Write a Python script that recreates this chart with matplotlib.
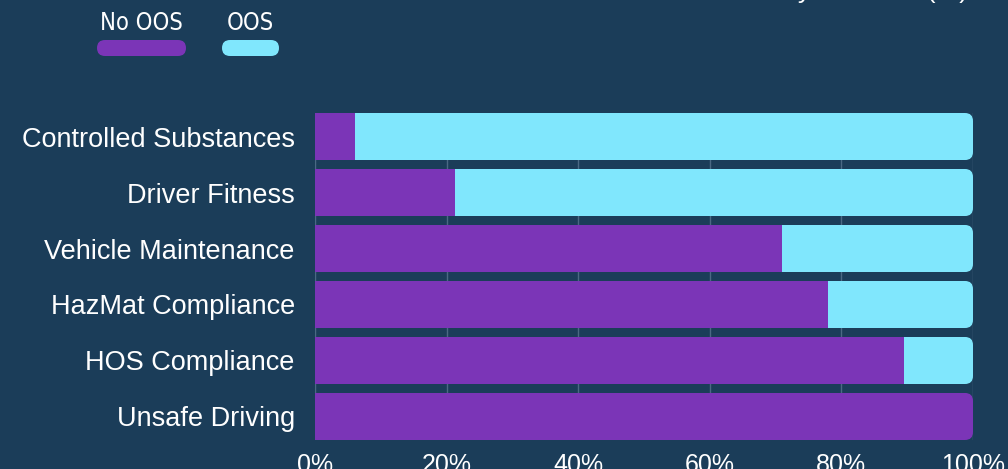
import matplotlib.pyplot as plt
from matplotlib.patches import FancyBboxPatch
from matplotlib.font_manager import FontProperties, fontManager

# share of inspections per BASIC, in percent
categories = ["Controlled Substances", "Driver Fitness", "Vehicle Maintenance",
              "HazMat Compliance", "HOS Compliance", "Unsafe Driving"]
no_oos = [6.1, 21.3, 71.0, 78.0, 89.5, 100.0]
oos = [93.9, 78.7, 29.0, 22.0, 10.5, 0.0]
series_names = ["No OOS", "OOS"]
tick_values = [0, 20, 40, 60, 80, 100]

BG = "#1b3d59"
PURPLE = "#7b35b7"
CYAN = "#80e7fd"
GRID = "#4b6984"
W, H = 1008, 469


def condensed_font(size):
    """Pick a narrow sans face for the legend labels if one is installed."""
    for f in fontManager.ttflist:
        low = f.fname.lower()
        if ("narrow" in low or "condensed" in low) and "bold" not in low \
                and "italic" not in low and "oblique" not in low and "sans" in low:
            return FontProperties(fname=f.fname, size=size)
    return FontProperties(family="Roboto", size=size * 0.9)


fig = plt.figure(figsize=(W / 100, H / 100), dpi=100, facecolor=BG)
ax = fig.add_axes([315 / W, 1 - 440 / H, 658 / W, 327 / H])
ax.set_facecolor(BG)

n = len(categories)
bar_h = 0.84
ax.set_xlim(0, 100)
ax.set_ylim(n - 1 + bar_h / 2, -bar_h / 2)

# rounding radius in pixels, converted into data units for each axis
px_x = 100 / 658
px_y = (n - 1 + bar_h) / 327
radius = 8

for i, cat in enumerate(categories):
    clip = FancyBboxPatch((-10, i - bar_h / 2), 110, bar_h,
                          boxstyle=f"round,pad=0,rounding_size={radius * px_x}",
                          mutation_aspect=px_y / px_x,
                          transform=ax.transData, facecolor="none", edgecolor="none")
    ax.add_patch(clip)
    segs = ax.barh([i, i], [no_oos[i], oos[i]], left=[0, no_oos[i]], height=bar_h,
                   color=[PURPLE, CYAN], zorder=3)
    for s in segs:
        s.set_clip_path(clip)

ax.set_xticks(tick_values)
ax.set_xticklabels([f"{v}%" for v in tick_values])
ax.set_yticks(range(n))
ax.set_yticklabels(categories)
ax.tick_params(axis="both", length=0, colors="white")
ax.tick_params(axis="x", pad=9, labelsize=18)
ax.tick_params(axis="y", pad=14.5, labelsize=19.5)
for lab in ax.get_xticklabels() + ax.get_yticklabels():
    lab.set_fontfamily("Liberation Sans")

ax.grid(axis="x", color=GRID, linewidth=1, zorder=0)
for sp in ax.spines.values():
    sp.set_visible(False)
ax.axvline(0, color="#a3b5c5", linewidth=1.2, zorder=1)

# legend swatches drawn as pills in figure pixels
legend_items = [(series_names[0], PURPLE, 97, 186), (series_names[1], CYAN, 222, 279)]
legend_font = condensed_font(17)
for label, col, x0, x1 in legend_items:
    pill = FancyBboxPatch((x0 / W, 1 - 56 / H), (x1 - x0) / W, 16 / H,
                          boxstyle=f"round,pad=0,rounding_size={8 / W}",
                          mutation_aspect=W / H,
                          transform=fig.transFigure, facecolor=col, edgecolor="none")
    fig.patches.append(pill)
    fig.text((x0 + x1) / 2 / W, 1 - 30 / H, label, color="white",
             fontproperties=legend_font, ha="center", va="baseline")

fig.text(968 / W, 1 + 2 / H, "OOS Rates by Violation (%)", color="white",
         fontsize=19, family="Liberation Sans", ha="right", va="baseline")

fig.savefig("out.png", dpi=100, facecolor=BG)
